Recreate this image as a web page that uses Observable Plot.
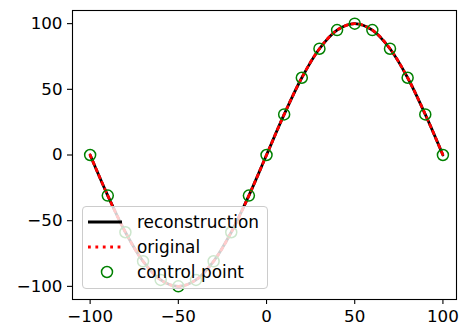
<!DOCTYPE html>
<html>
<head>
<meta charset="utf-8">
<script src="https://cdn.jsdelivr.net/npm/d3@7"></script>
<script src="https://cdn.jsdelivr.net/npm/@observablehq/plot@0.6"></script>
<style>
  body { margin: 0; background: #fff; }
  #wrap { position: relative; width: 460px; height: 331px; font-family: "DejaVu Sans", sans-serif; }
  #legend { position: absolute; left: 82px; top: 206px; width: 186px; height: 83px;
    background: rgba(255,255,255,0.8); border: 1px solid #cccccc; border-radius: 4px; box-sizing: border-box; }
  .row { position: absolute; left: 0; height: 20px; display: flex; align-items: center; }
  .row span { position: absolute; left: 54px; font-size: 16.9px; white-space: nowrap; line-height: 20px; color: #000; }
</style>
</head>
<body>
<div id="wrap"></div>
<script>
const xs = [-100, -90, -80, -70, -60, -50, -40, -30, -20, -10, 0, 10, 20, 30, 40, 50, 60, 70, 80, 90, 100];
const original = [0, -30.9, -58.8, -80.9, -95.1, -100, -95.1, -80.9, -58.8, -30.9, 0, 30.9, 58.8, 80.9, 95.1, 100, 95.1, 80.9, 58.8, 30.9, 0];
const reconstruction = [0, -30.9, -58.8, -80.9, -95.1, -100, -95.1, -80.9, -58.8, -30.9, 0, 30.9, 58.8, 80.9, 95.1, 100, 95.1, 80.9, 58.8, 30.9, 0];
const controlPoints = [0, -30.9, -58.8, -80.9, -95.1, -100, -95.1, -80.9, -58.8, -30.9, 0, 30.9, 58.8, 80.9, 95.1, 100, 95.1, 80.9, 58.8, 30.9, 0];
const xTicks = [-100, -50, 0, 50, 100];
const yTicks = [-100, -50, 0, 50, 100];
const legendLabels = ["reconstruction", "original", "control point"];

const rec = xs.map((x, i) => ({x, y: reconstruction[i]}));
const orig = xs.map((x, i) => ({x, y: original[i]}));
const ctrl = xs.map((x, i) => ({x, y: controlPoints[i]}));
const fmt = d => d < 0 ? "\u2212" + Math.abs(d) : String(d);

const chart = Plot.plot({
  width: 460,
  height: 331,
  marginLeft: 72,
  marginRight: 4,
  marginTop: 10,
  marginBottom: 32,
  style: { fontFamily: "DejaVu Sans, sans-serif", fontSize: "16.7px", color: "#000", background: "#fff" },
  x: { domain: [-110, 107.7], ticks: xTicks, tickFormat: fmt, label: null },
  y: { domain: [-110, 110], ticks: yTicks, tickFormat: fmt, label: null },
  marks: [
    Plot.line(rec, {x: "x", y: "y", stroke: "black", strokeWidth: 2.8, curve: "catmull-rom"}),
    Plot.line(orig, {x: "x", y: "y", stroke: "red", strokeWidth: 2.8, strokeDasharray: "2.8 4.6", curve: "catmull-rom"}),
    Plot.dot(ctrl, {x: "x", y: "y", r: 5.5, stroke: "green", strokeWidth: 1.5, fill: "none"}),
    Plot.axisX({ticks: xTicks, tickFormat: fmt, tickSize: 5, tickPadding: 6, strokeWidth: 1.1}),
    Plot.axisY({ticks: yTicks, tickFormat: fmt, tickSize: 5, tickPadding: 5, strokeWidth: 1.1}),
    Plot.frame({stroke: "black", strokeWidth: 1.1})
  ]
});
const wrap = document.getElementById("wrap");
wrap.appendChild(chart);

const legend = document.createElement("div");
legend.id = "legend";
const rowTops = [5, 30, 55];
legendLabels.forEach((lab, i) => {
  const row = document.createElement("div");
  row.className = "row";
  row.style.top = rowTops[i] + "px";
  row.style.width = "180px";
  const sw = document.createElementNS("http://www.w3.org/2000/svg", "svg");
  sw.setAttribute("width", "50"); sw.setAttribute("height", "20");
  sw.style.position = "absolute"; sw.style.left = "0px"; sw.style.top = "0px";
  if (i === 0) {
    sw.innerHTML = '<line x1="5" x2="39" y1="10" y2="10" stroke="black" stroke-width="2.8"/>';
  } else if (i === 1) {
    sw.innerHTML = '<line x1="5" x2="39" y1="10" y2="10" stroke="red" stroke-width="2.8" stroke-dasharray="2.8 4.6"/>';
  } else {
    sw.innerHTML = '<circle cx="24" cy="10" r="5.5" stroke="green" stroke-width="1.5" fill="none"/>';
  }
  row.appendChild(sw);
  const t = document.createElement("span");
  t.textContent = lab;
  row.appendChild(t);
  legend.appendChild(row);
});
wrap.appendChild(legend);
</script>
</body>
</html>
